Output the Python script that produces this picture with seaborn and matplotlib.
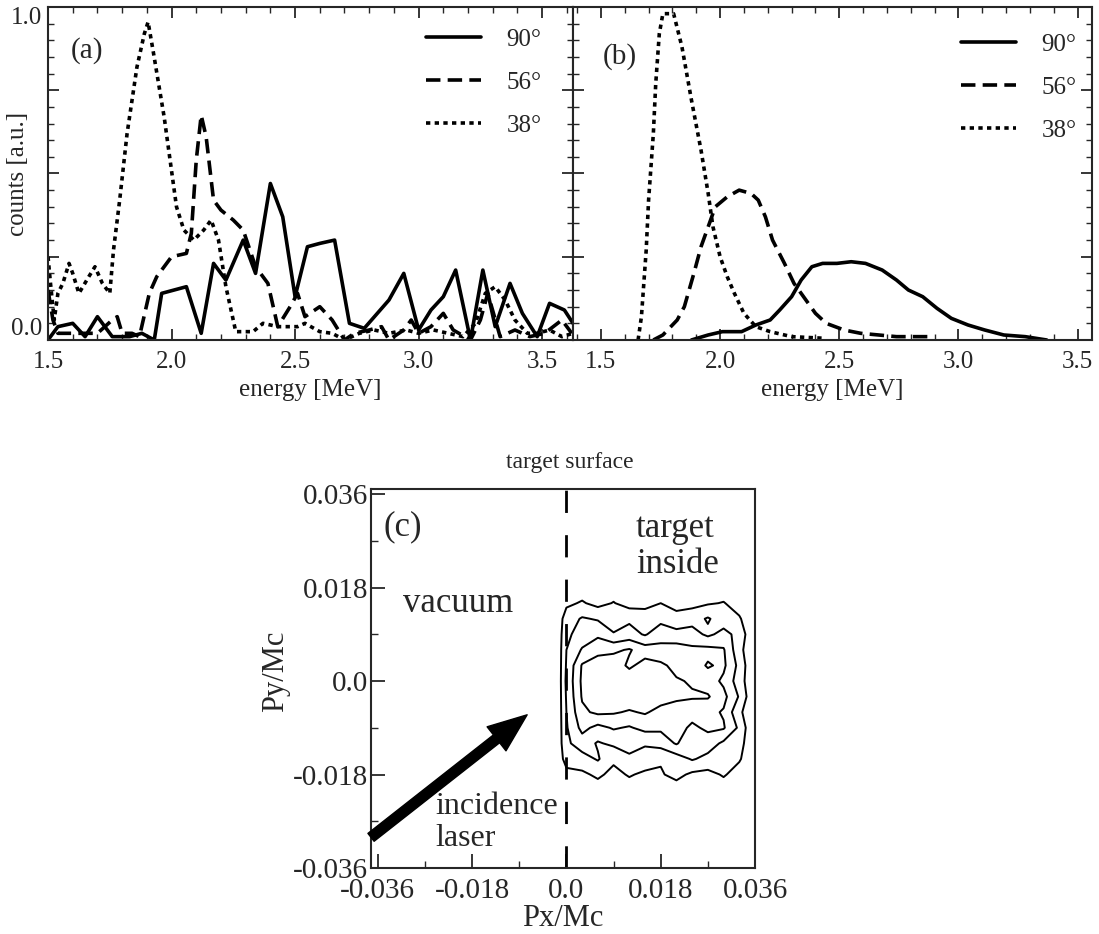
import numpy as np
import pandas as pd
import seaborn as sns
import matplotlib.pyplot as plt
from matplotlib.ticker import MultipleLocator

angles = ['90°', '56°', '38°']

# panel (a): measured spectra
a_e_90 = [1.50, 1.54, 1.60, 1.65, 1.70, 1.76, 1.83, 1.88, 1.93, 1.96, 2.06, 2.12, 2.17, 2.22,
          2.29, 2.34, 2.40, 2.45, 2.50, 2.55, 2.60, 2.66, 2.72, 2.78, 2.88, 2.94, 3.00, 3.05,
          3.10, 3.15, 3.21, 3.26, 3.31, 3.37, 3.42, 3.48, 3.53, 3.59, 3.625]
a_c_90 = [0.00, 0.04, 0.05, 0.01, 0.07, 0.01, 0.01, 0.02, 0.00, 0.14, 0.16, 0.02, 0.23, 0.18,
          0.30, 0.20, 0.47, 0.37, 0.13, 0.28, 0.29, 0.30, 0.05, 0.035, 0.12, 0.20, 0.03, 0.09,
          0.13, 0.21, 0.00, 0.21, 0.04, 0.17, 0.08, 0.01, 0.11, 0.09, 0.05]

a_e_56 = [1.50, 1.52, 1.54, 1.60, 1.70, 1.76, 1.78, 1.80, 1.84, 1.87, 1.91, 1.94, 2.00, 2.06,
          2.08, 2.10, 2.12, 2.14, 2.17, 2.20, 2.25, 2.29, 2.34, 2.39, 2.43, 2.48, 2.51, 2.54,
          2.60, 2.65, 2.70, 2.74, 2.80, 2.85, 2.88, 2.94, 2.97, 3.00, 3.05, 3.10, 3.14, 3.21,
          3.25, 3.28, 3.33, 3.39, 3.45, 3.51, 3.58, 3.62]
a_c_56 = [0.15, 0.06, 0.02, 0.02, 0.02, 0.06, 0.07, 0.02, 0.02, 0.01, 0.14, 0.19, 0.25, 0.26,
          0.32, 0.54, 0.675, 0.61, 0.42, 0.39, 0.36, 0.33, 0.22, 0.17, 0.04, 0.10, 0.14, 0.07,
          0.10, 0.06, 0.00, 0.02, 0.03, 0.04, 0.00, 0.03, 0.06, 0.02, 0.04, 0.08, 0.03, 0.00,
          0.06, 0.14, 0.01, 0.03, 0.01, 0.02, 0.06, 0.02]

a_e_38 = [1.500, 1.510, 1.525, 1.540, 1.560, 1.585, 1.600, 1.625, 1.665, 1.690, 1.720, 1.750,
          1.765, 1.790, 1.820, 1.860, 1.890, 1.905, 1.925, 1.970, 2.020, 2.050, 2.090, 2.130,
          2.160, 2.190, 2.220, 2.260, 2.330, 2.370, 2.430, 2.510, 2.540, 2.600, 2.650, 2.700,
          2.760, 2.820, 2.880, 2.950, 3.000, 3.060, 3.120, 3.180, 3.230, 3.270, 3.310, 3.350,
          3.390, 3.440, 3.480, 3.530, 3.580, 3.625]
a_c_38 = [0.25, 0.17, 0.06, 0.14, 0.17, 0.23, 0.20, 0.14, 0.19, 0.22, 0.17, 0.14,
          0.27, 0.42, 0.62, 0.82, 0.92, 0.955, 0.87, 0.67, 0.40, 0.33, 0.30, 0.33,
          0.36, 0.30, 0.16, 0.025, 0.025, 0.05, 0.04, 0.04, 0.05, 0.025, 0.02, 0.00,
          0.02, 0.03, 0.02, 0.03, 0.02, 0.03, 0.02, 0.01, 0.05, 0.14, 0.16, 0.12,
          0.06, 0.02, 0.02, 0.03, 0.01, 0.02]

# panel (b): simulated spectra
b_e_90 = [1.88, 1.95, 2.01, 2.09, 2.15, 2.21, 2.25, 2.30, 2.34, 2.385, 2.43, 2.49, 2.55,
          2.61, 2.68, 2.74, 2.79, 2.85, 2.91, 2.97, 3.04, 3.11, 3.19, 3.28, 3.37]
b_c_90 = [0.00, 0.015, 0.025, 0.025, 0.045, 0.06, 0.09, 0.13, 0.18, 0.22, 0.23, 0.23, 0.235,
          0.23, 0.21, 0.18, 0.15, 0.13, 0.095, 0.065, 0.045, 0.03, 0.015, 0.01, 0.00]

b_e_56 = [1.72, 1.76, 1.82, 1.85, 1.89, 1.92, 1.95, 1.98, 2.03, 2.08, 2.13, 2.16, 2.19, 2.22,
          2.27, 2.31, 2.36, 2.40, 2.445, 2.52, 2.59, 2.74, 2.88]
b_c_56 = [0.00, 0.015, 0.06, 0.10, 0.20, 0.28, 0.34, 0.40, 0.43, 0.45, 0.44, 0.42, 0.37, 0.30,
          0.23, 0.17, 0.12, 0.08, 0.05, 0.03, 0.02, 0.01, 0.01]

b_e_38 = [1.656, 1.670, 1.690, 1.700, 1.720, 1.730, 1.745, 1.760, 1.805, 1.840, 1.880, 1.920,
          1.950, 1.970, 2.000, 2.030, 2.060, 2.100, 2.150, 2.210, 2.300, 2.440]
b_c_38 = [0.00, 0.07, 0.27, 0.42, 0.62, 0.77, 0.92, 0.98, 0.98, 0.88, 0.72, 0.57,
          0.44, 0.34, 0.25, 0.19, 0.14, 0.08, 0.04, 0.025, 0.01, 0.005]

# panel (c): momentum-space density (rows from Py=-0.021 up to Py=0.018)
px_grid = [-0.0015, 0.000, 0.003, 0.006, 0.009, 0.012, 0.015, 0.018, 0.021, 0.024, 0.027,
           0.030, 0.033, 0.035]
py_grid = [-0.021, -0.018, -0.015, -0.012, -0.009, -0.006, -0.003, 0.000, 0.003, 0.006,
           0.009, 0.012, 0.015, 0.018]
density = [
    [0, 0.0, 0.0, 0.0, 0.0, 0.0, 0.0, 0.0, 0.0, 0.0, 0.0, 0.0, 0.0, 0],
    [0, 0.2, 0.3, 0.7, 0.2, 0.6, 0.3, 0.4, 0.8, 0.3, 0.2, 0.6, 0.1, 0],
    [0, 0.9, 1.1, 1.6, 0.7, 1.2, 1.1, 0.6, 1.0, 1.6, 1.2, 0.9, 0.6, 0],
    [0, 1.3, 2.0, 1.4, 1.7, 2.1, 1.6, 1.9, 2.6, 1.7, 2.0, 1.3, 0.9, 0],
    [0, 1.4, 2.8, 2.2, 2.6, 2.4, 2.8, 2.7, 2.9, 2.3, 2.7, 2.6, 1.3, 0],
    [0, 1.5, 3.3, 3.7, 3.6, 3.4, 3.6, 3.2, 3.0, 2.9, 2.8, 2.4, 0.7, 0],
    [0, 1.6, 3.6, 4.2, 4.3, 4.1, 4.0, 3.9, 3.7, 3.6, 3.6, 2.8, 1.4, 0.1],
    [0, 1.7, 3.7, 4.3, 4.4, 4.2, 4.1, 3.8, 3.6, 3.4, 3.0, 2.3, 1.0, 0],
    [0, 1.6, 3.6, 4.0, 4.1, 3.3, 3.9, 3.7, 3.2, 3.0, 2.4, 2.7, 1.2, 0],
    [0, 1.5, 2.6, 3.2, 3.3, 3.6, 3.0, 2.8, 3.0, 2.7, 2.8, 2.6, 0.8, 0],
    [0, 1.3, 1.9, 2.3, 1.6, 1.9, 1.4, 2.1, 1.8, 1.9, 1.3, 1.8, 1.2, 0],
    [0, 1.0, 1.6, 1.4, 0.8, 1.3, 1.0, 1.2, 0.9, 1.1, 1.6, 1.0, 0.6, 0],
    [0, 0.3, 0.6, 0.2, 0.55, 0.1, 0.2, 0.5, 0.1, 0.2, 0.4, 0.55, 0.1, 0],
    [0, 0.0, 0.0, 0.0, 0.0, 0.0, 0.0, 0.0, 0.0, 0.0, 0.0, 0.0, 0.0, 0],
]
levels = [0.5, 1.5, 2.5, 3.5]
laser_tail = (-0.0373, -0.0301)
laser_tip = (-0.0075, -0.0065)


def spectra_frame(series):
    rows = []
    for angle, (e, c) in zip(angles, series):
        for x, y in zip(e, c):
            rows.append({'energy': x, 'counts': y, 'angle': angle})
    return pd.DataFrame(rows)


df_a = spectra_frame([(a_e_90, a_c_90), (a_e_56, a_c_56), (a_e_38, a_c_38)])
df_b = spectra_frame([(b_e_90, b_c_90), (b_e_56, b_c_56), (b_e_38, b_c_38)])

sns.set_style('ticks')
plt.rcParams['font.family'] = ['Liberation Serif', 'DejaVu Serif']
plt.rcParams['axes.linewidth'] = 1.5

fig = plt.figure(figsize=(10.99, 9.34), dpi=100)
ax_a = fig.add_axes([0.0437, 0.636, 0.4777, 0.3565])
ax_b = fig.add_axes([0.5214, 0.636, 0.4722, 0.3565])
ax_c = fig.add_axes([0.3376, 0.0707, 0.3494, 0.4058])

dashes = {'90°': '', '56°': (4, 2), '38°': (1.2, 1.2)}
for ax, df in [(ax_a, df_a), (ax_b, df_b)]:
    sns.lineplot(data=df, x='energy', y='counts', style='angle', style_order=angles,
                 dashes=dashes, color='k', lw=2.6, estimator=None, sort=False,
                 legend=False, ax=ax)
    ax.set_ylim(0, 1.0)
    ax.set_xlabel('energy [MeV]', fontsize=18)
    ax.xaxis.set_minor_locator(MultipleLocator(0.1))
    ax.set_xticks([1.5, 2.0, 2.5, 3.0, 3.5], ['1.5', '2.0', '2.5', '3.0', '3.5'])
    ax.yaxis.set_minor_locator(MultipleLocator(0.05))
    ax.tick_params(which='both', direction='in', top=True, right=True, labelsize=18)
    ax.tick_params(axis='x', pad=8)
    ax.tick_params(axis='y', pad=4)
    ax.tick_params(which='major', length=8, width=1.3)
    ax.tick_params(which='minor', length=4, width=1.0)
    ax.legend(ax.lines[:3], angles, frameon=False, fontsize=18, loc='upper right',
              handlelength=2.2, handletextpad=1.0, labelspacing=0.82,
              borderaxespad=0, borderpad=0,
              bbox_to_anchor=(0.94, 0.935) if ax is ax_a else (0.97, 0.92))

ax_a.set_xlim(1.5, 3.625)
ax_b.set_xlim(1.383, 3.56)
ax_a.set_yticks([0, 0.25, 0.5, 0.75, 1.0], ['0.0', '', '', '', '1.0'])
ylabs = ax_a.get_yticklabels()
ylabs[0].set_va('bottom')
ylabs[-1].set_va('top')
ax_a.set_ylabel('counts [a.u.]', fontsize=18)
ax_a.yaxis.set_label_coords(-0.036, 0.5)
ax_b.set_yticks([0, 0.25, 0.5, 0.75, 1.0])
ax_b.set_yticklabels([])
ax_b.set_ylabel('')
ax_a.text(0.074, 0.868, '(a)', transform=ax_a.transAxes, fontsize=21, ha='center', va='center')
ax_b.text(0.09, 0.85, '(b)', transform=ax_b.transAxes, fontsize=21, ha='center', va='center')

# panel (c)
ax_c.contour(px_grid, py_grid, np.array(density), levels=levels, colors='k', linewidths=1.4)
ax_c.axvline(0, color='k', lw=2, dashes=(8, 8))
ax_c.annotate('', xy=laser_tip, xytext=laser_tail, annotation_clip=False,
              arrowprops=dict(arrowstyle='simple,head_length=0.7,head_width=0.55,tail_width=0.18',
                              mutation_scale=40, fc='k', ec='k', shrinkA=0, shrinkB=0))
ax_c.set_xlim(-0.0373, 0.0355)
ax_c.set_ylim(-0.035, 0.037)
ticks_c = [-0.036, -0.018, 0.0, 0.018, 0.036]
tick_labels_c = ['-0.036', '-0.018', '0.0', '0.018', '0.036']
ax_c.set_xticks(ticks_c, tick_labels_c)
ax_c.set_yticks(ticks_c, tick_labels_c)
ax_c.xaxis.set_minor_locator(MultipleLocator(0.009))
ax_c.yaxis.set_minor_locator(MultipleLocator(0.009))
ax_c.tick_params(which='both', direction='in', labelsize=21)
ax_c.tick_params(axis='x', pad=7)
ax_c.tick_params(axis='y', pad=2)
ax_c.tick_params(which='major', length=10, width=1.3)
ax_c.tick_params(which='minor', length=5, width=1.0)
ax_c.set_xlabel('Px/Mc', fontsize=22, labelpad=0)
ax_c.set_ylabel('Py/Mc', fontsize=22)
ax_c.yaxis.set_label_coords(-0.211, 0.52)
ax_c.text(0.227, 0.699, 'vacuum', transform=ax_c.transAxes, fontsize=25, ha='center', va='center')
ax_c.text(0.69, 0.848, 'target\ninside', transform=ax_c.transAxes, fontsize=25, ha='left',
          va='center', linespacing=1.15)
ax_c.text(0.167, 0.12, 'incidence\nlaser', transform=ax_c.transAxes, fontsize=23, ha='left',
          va='center', linespacing=1.12)
ax_c.text(0.083, 0.90, '(c)', transform=ax_c.transAxes, fontsize=25, ha='center', va='center')
fig.text(570 / 1099, 1 - 463 / 934, 'target surface', fontsize=17, ha='center', va='center')

fig.savefig('out.png', dpi=100)
